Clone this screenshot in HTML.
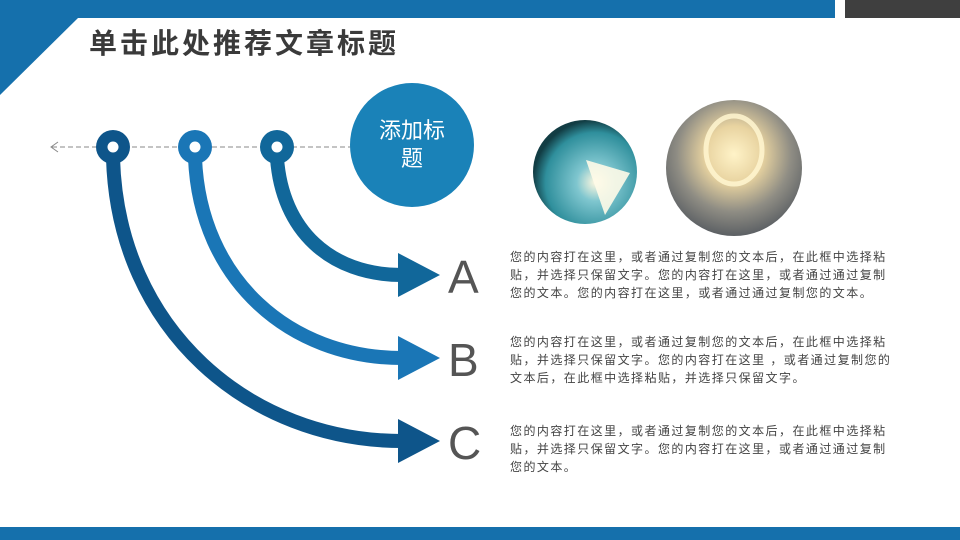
<!DOCTYPE html>
<html><head><meta charset="utf-8"><style>
body{margin:0;width:960px;height:540px;overflow:hidden;background:#fff;position:relative;font-family:"Liberation Sans","Noto Sans CJK SC",sans-serif}
.t{position:absolute;left:510px;font-size:12px;line-height:18px;color:#444;letter-spacing:1.45px;white-space:nowrap}
.L{position:absolute;left:448px;font-size:46px;color:#555;line-height:46px;font-family:"Liberation Sans",sans-serif}
</style></head><body>
<svg width="960" height="540" style="position:absolute;left:0;top:0">
<defs>
<radialGradient id="pie" cx="0.6" cy="0.6" r="0.6"><stop offset="0" stop-color="#fff8e0"/><stop offset="0.3" stop-color="#7fc6cf"/><stop offset="0.8" stop-color="#2f8f9c"/><stop offset="1" stop-color="#123d44"/></radialGradient>
<radialGradient id="bulb" cx="0.5" cy="0.4" r="0.6"><stop offset="0" stop-color="#fff3c8"/><stop offset="0.35" stop-color="#e8d3a0"/><stop offset="0.7" stop-color="#8f8d84"/><stop offset="1" stop-color="#5c6064"/></radialGradient>
</defs>
<rect x="0" y="0" width="835" height="18" fill="#1570ac"/>
<rect x="845" y="0" width="115" height="18" fill="#3f3f3f"/>
<polygon points="0,0 78,0 78,18 0,95" fill="#1570ac"/>
<rect x="0" y="527" width="960" height="13" fill="#1570ac"/>
<line x1="52" y1="147" x2="352" y2="147" stroke="#888" stroke-dasharray="5,3" stroke-width="1"/>
<polyline points="58,142 51,147 58,152" fill="none" stroke="#888" stroke-width="1"/>
<path d="M277,158 C282,230 330,275 402,275" fill="none" stroke="#11679a" stroke-width="14"/>
<polygon points="398,253 440,275 398,297" fill="#11679a"/>
<path d="M195,158 C200,280 290,358 402,358" fill="none" stroke="#1a76b6" stroke-width="14"/>
<polygon points="398,336 440,358 398,380" fill="#1a76b6"/>
<path d="M113,158 C118,330 250,441 402,441" fill="none" stroke="#0e558a" stroke-width="14"/>
<polygon points="398,419 440,441 398,463" fill="#0e558a"/>
<circle cx="113" cy="147" r="17" fill="#0e558a"/><circle cx="113" cy="147" r="5.5" fill="#fff"/>
<circle cx="195" cy="147" r="17" fill="#1a76b6"/><circle cx="195" cy="147" r="5.5" fill="#fff"/>
<circle cx="277" cy="147" r="17" fill="#11679a"/><circle cx="277" cy="147" r="5.5" fill="#fff"/>
<circle cx="412" cy="145" r="62" fill="#1a82b8"/>
<circle cx="585" cy="172" r="52" fill="url(#pie)"/>
<polygon points="586,160 630,173 605,215" fill="#fffbe8" opacity="0.9"/>
<circle cx="734" cy="168" r="68" fill="url(#bulb)"/>
<ellipse cx="734" cy="150" rx="28" ry="34" fill="none" stroke="#fff6d0" stroke-width="5" opacity="0.85"/>
</svg>
<div style="position:absolute;left:89px;top:22px;font-size:28px;font-weight:bold;color:#3a3a3a;letter-spacing:3px;font-family:'Liberation Sans','Noto Sans CJK SC',sans-serif">单击此处推荐文章标题</div>
<div style="position:absolute;left:362px;top:117px;width:100px;text-align:center;font-size:22px;line-height:28px;color:#fff">添加标<br>题</div>
<div class="L" style="top:254px">A</div>
<div class="L" style="top:337px">B</div>
<div class="L" style="top:420px">C</div>
<div class="t" style="top:248px">您的内容打在这里，或者通过复制您的文本后，在此框中选择粘<br>贴，并选择只保留文字。您的内容打在这里，或者通过通过复制<br>您的文本。您的内容打在这里，或者通过通过复制您的文本。</div>
<div class="t" style="top:333px">您的内容打在这里，或者通过复制您的文本后，在此框中选择粘<br>贴，并选择只保留文字。您的内容打在这里 ，或者通过复制您的<br>文本后，在此框中选择粘贴，并选择只保留文字。</div>
<div class="t" style="top:422px">您的内容打在这里，或者通过复制您的文本后，在此框中选择粘<br>贴，并选择只保留文字。您的内容打在这里，或者通过通过复制<br>您的文本。</div>
</body></html>
